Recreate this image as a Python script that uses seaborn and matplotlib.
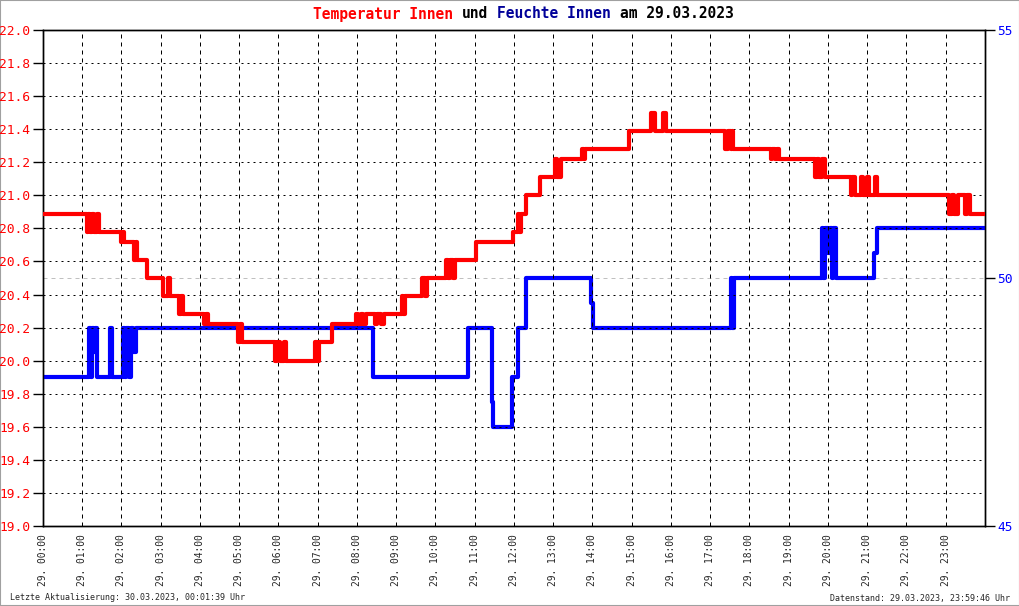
"""Temperatur / Feuchte Innen - Tagesverlauf 29.03.2023"""

import matplotlib
matplotlib.use("Agg")
import matplotlib.pyplot as plt
import matplotlib.patches as mpatches
import pandas as pd
import seaborn as sns

# Temperatur (Stufen, Stunde -> Grad C)
temp_hours = [0.00, 1.11, 1.15, 1.20, 1.25, 1.30, 1.38, 1.42,
              2.00, 2.04, 2.07, 2.33, 2.36, 2.40, 2.64,
              3.05, 3.18, 3.24, 3.47, 3.52, 3.56,
              4.09, 4.15, 4.20, 4.98, 5.03, 5.08,
              5.92, 5.97, 6.05, 6.13, 6.20, 6.93, 6.97, 7.02, 7.36,
              7.97, 8.02, 8.10, 8.16, 8.24, 8.46, 8.52, 8.60, 8.68,
              9.14, 9.18, 9.22, 9.66, 9.72, 9.78,
              10.26, 10.32, 10.38, 10.45, 10.50, 11.03,
              11.97, 12.10, 12.14, 12.17, 12.30, 12.66,
              13.05, 13.10, 13.20, 13.73, 13.78, 13.82, 14.94,
              15.50, 15.60, 15.80, 15.87,
              17.38, 17.44, 17.52, 17.55, 17.58,
              18.54, 18.58, 18.65, 18.70, 18.75,
              19.67, 19.72, 19.78, 19.84, 19.92,
              20.58, 20.62, 20.70, 20.84, 20.88, 21.00, 21.04, 21.20, 21.26,
              23.09, 23.15, 23.22, 23.30, 23.50, 23.55, 23.63, 24.00]
temp_values = [20.89, 20.78, 20.89, 20.78, 20.89, 20.78, 20.89, 20.78,
               20.72, 20.78, 20.72, 20.61, 20.72, 20.61, 20.50,
               20.39, 20.50, 20.39, 20.28, 20.39, 20.28,
               20.22, 20.28, 20.22, 20.11, 20.22, 20.11,
               20.00, 20.11, 20.00, 20.11, 20.00, 20.11, 20.00, 20.11, 20.22,
               20.28, 20.22, 20.28, 20.22, 20.28, 20.22, 20.28, 20.22, 20.28,
               20.39, 20.28, 20.39, 20.50, 20.39, 20.50,
               20.61, 20.50, 20.61, 20.50, 20.61, 20.72,
               20.78, 20.89, 20.78, 20.89, 21.00, 21.11,
               21.22, 21.11, 21.22, 21.28, 21.22, 21.28, 21.39,
               21.50, 21.39, 21.50, 21.39,
               21.28, 21.39, 21.28, 21.39, 21.28,
               21.22, 21.28, 21.22, 21.28, 21.22,
               21.11, 21.22, 21.11, 21.22, 21.11,
               21.00, 21.11, 21.00, 21.11, 21.00, 21.11, 21.00, 21.11, 21.00,
               20.89, 21.00, 20.89, 21.00, 20.89, 21.00, 20.89, 20.89]

# Feuchte (Stufen, Stunde -> %)
hum_hours = [0.00, 1.18, 1.22, 1.25, 1.30, 1.33, 1.38, 1.71, 1.76,
             2.03, 2.08, 2.12, 2.20, 2.24, 2.30, 2.36,
             8.42, 10.84, 11.43, 11.45, 11.47, 11.96, 12.10, 12.30,
             13.95, 14.00, 17.53, 17.56, 17.60,
             19.84, 19.88, 19.92, 20.00, 20.04, 20.10, 20.14, 20.20,
             21.17, 21.24, 24.00]
hum_values = [48, 49, 48, 49, 48.5, 49, 48, 49, 48,
              49, 48, 49, 48, 49, 48.5, 49,
              48, 49, 48, 47.5, 47, 48, 49, 50,
              49.5, 49, 50, 49, 50,
              51, 50, 51, 50.5, 51, 50, 51, 50,
              50.5, 51, 51]

hour_ticks = list(range(24))
hour_labels = [f"29. {h:02d}:00" for h in hour_ticks]
temp_ticks = [19.0, 19.2, 19.4, 19.6, 19.8, 20.0, 20.2, 20.4, 20.6, 20.8,
              21.0, 21.2, 21.4, 21.6, 21.8, 22.0]
hum_ticks = [45, 50, 55]

RED = "#ff0000"
BLUE = "#0000ff"
PX = 0.72  # one pixel in points at dpi 100

sns.set_style("white")
plt.rcParams["font.family"] = ["DejaVu Sans Mono"]

temp_df = pd.DataFrame({"hour": temp_hours, "temp": temp_values})
hum_df = pd.DataFrame({"hour": hum_hours, "hum": hum_values})

fig = plt.figure(figsize=(10.2, 6.06), dpi=100)
ax = fig.add_axes([43 / 1020, 80 / 606, 942 / 1020, 496 / 606])
ax2 = ax.twinx()
ax.set_zorder(2)
ax.patch.set_visible(False)

# grid
for h in hour_ticks[1:]:
    ax.axvline(h, color="black", lw=PX, ls=(0, (4, 4)), zorder=1)
for t in temp_ticks[1:-1]:
    ax.axhline(t, color="black", lw=PX, ls=(0, (2, 4)), zorder=1)
ax2.axhline(50, color="#c0c0c0", lw=PX, ls=(0, (4, 4)), zorder=1)

sns.lineplot(data=hum_df, x="hour", y="hum", ax=ax2, color=BLUE, lw=3,
             drawstyle="steps-post", estimator=None, sort=False, zorder=3)
sns.lineplot(data=temp_df, x="hour", y="temp", ax=ax, color=RED, lw=3,
             drawstyle="steps-post", estimator=None, sort=False, zorder=3)

ax.set_xlim(0, 24)
ax.set_ylim(19.0, 22.0)
ax2.set_ylim(45, 55)
ax.set_xlabel("")
ax.set_ylabel("")
ax2.set_ylabel("")

ax.set_xticks(hour_ticks)
ax.set_xticklabels(hour_labels, rotation=90, fontsize=6.9)
ax.set_yticks(temp_ticks)
ax.set_yticklabels([f"{t:.1f}" for t in temp_ticks], fontsize=9.3, color=RED)
ax2.set_yticks(hum_ticks)
ax2.set_yticklabels([str(v) for v in hum_ticks], fontsize=9.3, color=BLUE)

ax.tick_params(axis="x", length=0, pad=6)
ax.tick_params(axis="y", left=True, length=7, width=1, color="black", pad=2)
ax2.tick_params(axis="y", right=True, length=7, width=1, color="black", pad=2)

for a in (ax, ax2):
    for s in a.spines.values():
        s.set_color("black")
        s.set_linewidth(1.0)

# Titel in mehreren Farben (Monospace: feste Zeichenbreite)
char_px = 10.5 / 72 * 100 * 0.602
parts = [("Temperatur Innen", 0, RED), ("und", 17, "black"),
         ("Feuchte Innen", 21, "#000099"), ("am 29.03.2023", 35, "black")]
for text, start, col in parts:
    fig.text((313 + start * char_px) / 1020, 1 - 14 / 606, text, color=col,
             fontsize=10.5, fontweight="bold", ha="left", va="center")

fig.text(10 / 1020, 1 - 598 / 606, "Letzte Aktualisierung: 30.03.2023, 00:01:39 Uhr",
         fontsize=6, ha="left", va="center")
fig.text(1010 / 1020, 1 - 598 / 606, "Datenstand: 29.03.2023, 23:59:46 Uhr",
         fontsize=6, ha="right", va="center")

fig.add_artist(mpatches.Rectangle((0, 0), 1, 1, transform=fig.transFigure,
                                  fill=False, ec="#a0a0a0", lw=1.5))

fig.savefig("out.png", dpi=100)
